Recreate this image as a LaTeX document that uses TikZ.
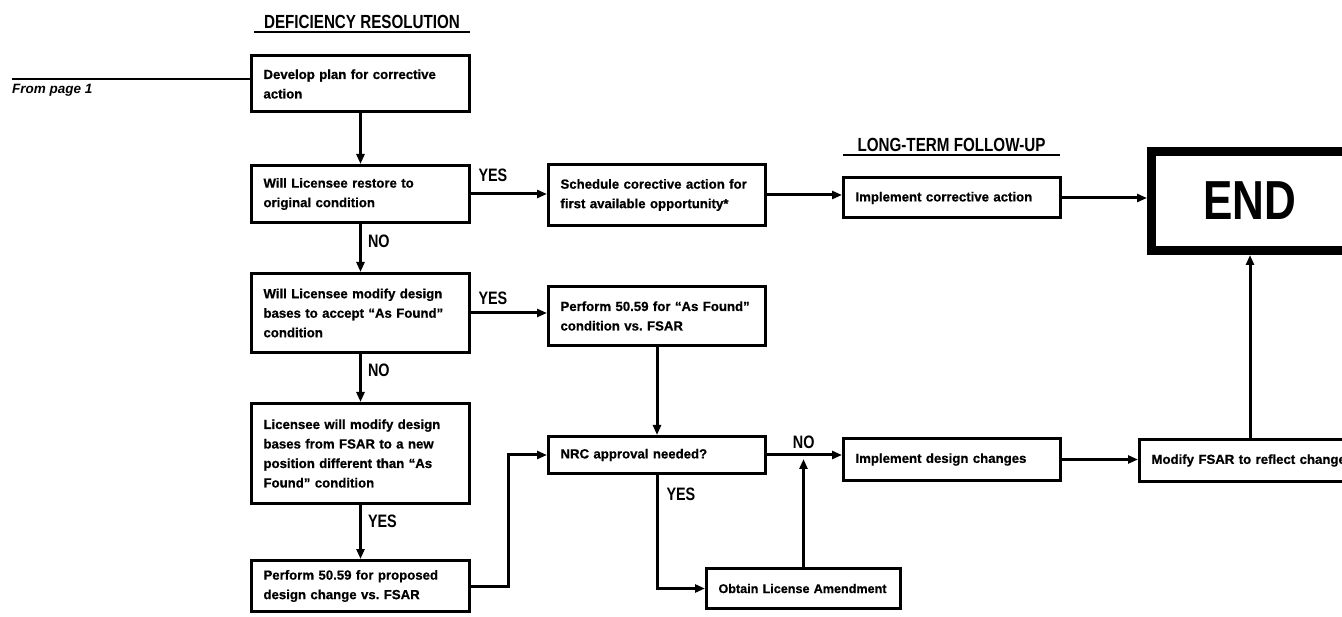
\documentclass[tikz,border=0pt]{standalone}
\usepackage{fontspec}
\setmainfont{Liberation Sans}
\newfontfamily\boxfont[BoldFeatures={FakeBold=0.7}]{Liberation Sans}
\newfontfamily\narrowfont[FakeStretch=0.8]{Liberation Sans}
\usetikzlibrary{arrows.meta}
\tikzset{
  box/.style={draw, line width=3pt, inner xsep=12pt, inner ysep=2pt,
    text width=194pt, align=left,
    font=\fontsize{13.2}{19.5}\selectfont\boxfont\bfseries},
  lbl/.style={inner sep=0pt, font=\fontsize{18}{18}\selectfont\narrowfont\bfseries},
  heading/.style={inner xsep=0pt, inner ysep=2.5pt,
    font=\fontsize{19}{19}\selectfont\narrowfont\bfseries},
  arr/.style={line width=3pt, -{Triangle[length=10pt,width=8pt]}},
}
\begin{document}
\begin{tikzpicture}[x=1pt,y=-1pt]
  \useasboundingbox (0,0) rectangle (1342,617);
  % headings
  \node[heading, minimum width=215pt, anchor=base] (defres) at (362,29) {DEFICIENCY RESOLUTION};
  \node[heading, minimum width=217pt, anchor=base] (longterm) at (951.5,152) {LONG-TERM FOLLOW-UP};
  \draw[line width=2.5pt] (defres.south west) -- (defres.south east);
  \draw[line width=2.5pt] (longterm.south west) -- (longterm.south east);
  % left column
  \node[inner sep=0pt, anchor=base west, font=\fontsize{13.5}{14}\selectfont\boxfont\bfseries\itshape] (frompage) at (12,94) {From page 1};
  \coordinate (src) at (12,79);
  \node[box, minimum height=56pt] (plan) at (360.5,84) {Develop plan for corrective\\action};
  \node[box, minimum height=57pt] (restore) at (360.5,194) {Will Licensee restore to\\original condition};
  \node[box, minimum height=79pt] (accept) at (360.5,313) {Will Licensee modify design\\bases to accept “As Found”\\condition};
  \node[box, minimum height=100pt] (newpos) at (360.5,453.5) {Licensee will modify design\\bases from FSAR to a new\\position different than “As\\Found” condition};
  \node[box, minimum height=51pt] (evalnew) at (360.5,586) {Perform 50.59 for proposed\\design change vs.\ FSAR};
  % middle
  \node[box, text width=193pt, minimum height=61pt] (sched) at (657,195) {Schedule corective action for\\first available opportunity*};
  \node[box, text width=193pt, minimum height=59pt] (evalfound) at (657,316) {Perform 50.59 for “As Found”\\condition vs.\ FSAR};
  \node[box, text width=193pt, minimum height=37pt] (nrc) at (657,455) {NRC approval needed?};
  \node[box, text width=170pt, minimum height=40pt, font=\fontsize{12.6}{19.5}\selectfont\boxfont\bfseries] (amend) at (803.5,588.5) {Obtain License Amendment};
  % right
  \node[box, text width=193pt, minimum height=40pt] (implact) at (952,198) {Implement corrective action};
  \node[box, text width=193pt, minimum height=42pt] (impldes) at (952,459.5) {Implement design changes};
  \node[box, text width=209pt, minimum height=42pt, anchor=west] (fsar) at (1138,460.5) {Modify FSAR to reflect changes};
  \node[draw, line width=9pt, minimum width=197pt, minimum height=99pt,
    font=\fontsize{55}{55}\selectfont\narrowfont\bfseries] (end) at (1250,201) {END};
  % connectors
  \draw[line width=2pt] (src) -- (src -| plan.west);
  \begin{scope}[arr]
    \draw (plan) -- (restore);
    \draw (restore) -- node[lbl, anchor=north west, pos=0, xshift=6pt, yshift=-9pt] (no1) {NO} (accept);
    \draw (accept) -- node[lbl, anchor=north west, pos=0, xshift=6pt, yshift=-8pt] (no2) {NO} (newpos);
    \draw (newpos) -- node[lbl, anchor=north west, pos=0, xshift=6pt, yshift=-8pt] (yes3) {YES} (evalnew);
    \draw (restore.east) -- node[lbl, anchor=base west, pos=0, xshift=6pt, yshift=12pt] (yes1) {YES} (restore.east -| sched.west);
    \draw (accept.east) -- node[lbl, anchor=base west, pos=0, xshift=6pt, yshift=8pt] (yes2) {YES} (accept.east -| evalfound.west);
    \draw (evalnew.east) -- ++(37,0) |- (nrc.west);
    \draw (evalfound) -- (nrc);
    \draw (nrc.east) -- node[lbl, anchor=base, pos=0.49, yshift=6pt] (no3) {NO} (nrc.east -| impldes.west);
    \draw (nrc.south) |- node[lbl, anchor=north west, pos=0, xshift=8pt, yshift=-11pt] (yes4) {YES} (amend.west);
    \draw[shorten >=4pt] (amend.north) -- (amend.north |- nrc.east);
    \draw (sched.east) -- (sched.east -| implact.west);
    \draw (implact.east) -- (implact.east -| end.west);
    \draw (impldes.east) -- (impldes.east -| fsar.west);
    \draw (end.south |- fsar.north) -- (end.south);
  \end{scope}
\end{tikzpicture}
\end{document}
